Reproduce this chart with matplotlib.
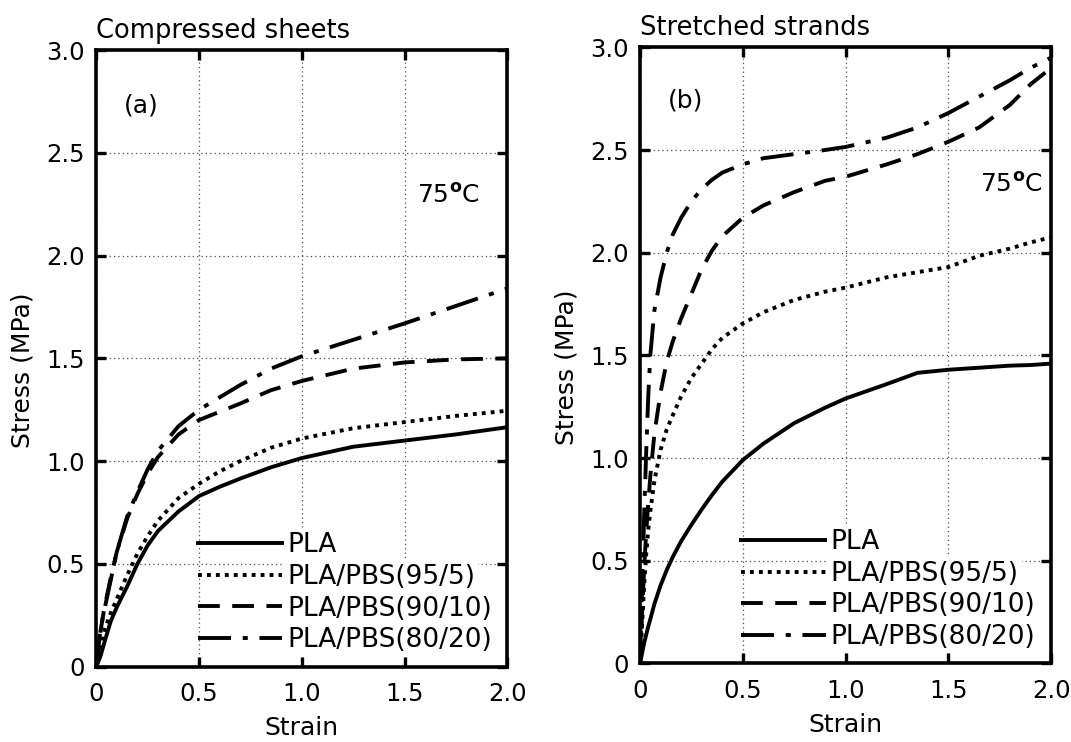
import numpy as np
import matplotlib.pyplot as plt

plt.rcParams['font.family'] = ['DejaVu Sans']

labels = ["PLA", "PLA/PBS(95/5)", "PLA/PBS(90/10)", "PLA/PBS(80/20)"]

# (a) compressed sheets
strain_a = [0, 0.02, 0.04, 0.07, 0.1, 0.15, 0.2, 0.25, 0.3, 0.4, 0.5, 0.6, 0.7, 0.85, 1.0, 1.25, 1.5, 1.75, 2.0]
pla_a = [0, 0.05, 0.12, 0.22, 0.29, 0.39, 0.50, 0.59, 0.66, 0.755, 0.83, 0.875, 0.915, 0.97, 1.015, 1.07, 1.10, 1.13, 1.165]
pbs95_a = [0, 0.09, 0.18, 0.26, 0.33, 0.445, 0.55, 0.635, 0.71, 0.82, 0.89, 0.95, 1.0, 1.065, 1.11, 1.16, 1.19, 1.22, 1.245]
pbs90_a = [0, 0.17, 0.29, 0.43, 0.56, 0.72, 0.84, 0.94, 1.02, 1.13, 1.20, 1.24, 1.28, 1.345, 1.39, 1.45, 1.48, 1.495, 1.50]
pbs80_a = [0, 0.18, 0.28, 0.42, 0.56, 0.73, 0.85, 0.96, 1.05, 1.17, 1.25, 1.31, 1.37, 1.45, 1.51, 1.59, 1.67, 1.755, 1.84]

# (b) stretched strands
strain_b = [0, 0.01, 0.02, 0.03, 0.04, 0.05, 0.07, 0.1, 0.13, 0.16, 0.2, 0.25, 0.3, 0.35, 0.4, 0.5,
            0.6, 0.75, 0.9, 1.0, 1.2, 1.35, 1.5, 1.65, 1.8, 1.9, 2.0]
pla_b = [0, 0.05, 0.10, 0.14, 0.18, 0.215, 0.29, 0.38, 0.455, 0.52, 0.595, 0.675, 0.75, 0.82, 0.885, 0.99,
         1.07, 1.17, 1.245, 1.29, 1.36, 1.415, 1.43, 1.44, 1.45, 1.453, 1.46]
pbs95_b = [0, 0.18, 0.38, 0.53, 0.65, 0.74, 0.89, 1.04, 1.14, 1.21, 1.30, 1.39, 1.46, 1.53, 1.585, 1.655,
           1.71, 1.77, 1.81, 1.83, 1.88, 1.905, 1.93, 1.985, 2.02, 2.05, 2.075]
pbs90_b = [0, 0.24, 0.46, 0.64, 0.78, 0.91, 1.12, 1.32, 1.47, 1.57, 1.68, 1.80, 1.92, 2.01, 2.08, 2.17,
           2.23, 2.295, 2.35, 2.37, 2.43, 2.48, 2.54, 2.61, 2.72, 2.82, 2.90]
pbs80_b = [0, 0.36, 0.72, 1.03, 1.30, 1.50, 1.72, 1.88, 2.0, 2.09, 2.17, 2.25, 2.31, 2.355, 2.39, 2.43,
           2.46, 2.48, 2.50, 2.515, 2.56, 2.61, 2.68, 2.76, 2.84, 2.90, 2.95]

xticks = [0, 0.5, 1.0, 1.5, 2.0]
xticklabels = ["0", "0.5", "1.0", "1.5", "2.0"]
yticks = [0, 0.5, 1.0, 1.5, 2.0, 2.5, 3.0]
yticklabels = ["0", "0.5", "1.0", "1.5", "2.0", "2.5", "3.0"]

styles = ["-", (0, (1.0, 1.3)), (0, (5.6, 3.2)), (0, (8.5, 3.0, 1.3, 3.0))]

fig = plt.figure(figsize=(10.71, 7.42), dpi=100)
ax1 = fig.add_axes([0.0899, 0.1015, 0.3838, 0.8311])
ax2 = fig.add_axes([0.5976, 0.1059, 0.3838, 0.8303])

panels = [
    (ax1, strain_a, [pla_a, pbs95_a, pbs90_a, pbs80_a], "Compressed sheets", "(a)", (0.22, 2.73), (1.56, 2.29)),
    (ax2, strain_b, [pla_b, pbs95_b, pbs90_b, pbs80_b], "Stretched strands", "(b)", (0.22, 2.74), (1.655, 2.33)),
]

for ax, x, series, title, tag, tagpos, tpos in panels:
    for y, ls, lab in zip(series, styles, labels):
        ax.plot(x, y, color="black", linestyle=ls, linewidth=2.8, label=lab)
    ax.set_xlim(0, 2.0)
    ax.set_ylim(0, 3.0)
    ax.set_xticks(xticks)
    ax.set_xticklabels(xticklabels)
    ax.set_yticks(yticks)
    ax.set_yticklabels(yticklabels)
    ax.tick_params(direction="in", length=7, width=2.4, top=True, right=True, labelsize=17.5)
    ax.tick_params(axis="x", pad=11)
    ax.tick_params(axis="y", pad=8)
    for s in ax.spines.values():
        s.set_linewidth(2.6)
    ax.grid(True, linestyle=(0, (1, 2.5)), color="0.3", linewidth=0.9)
    ax.set_title(title, loc="left", fontsize=18.5, pad=9)
    ax.set_xlabel("Strain", fontsize=18)
    ax.set_ylabel("Stress (MPa)", fontsize=18)
    ax.xaxis.set_label_coords(0.5, -0.080)
    ax.yaxis.set_label_coords(-0.150, 0.48)
    ax.text(tagpos[0], tagpos[1], tag, fontsize=18, ha="center", va="center")
    ax.text(tpos[0], tpos[1], r"75$^{\mathbf{o}}$C", fontsize=18, ha="left", va="center")
    leg = ax.legend(loc="lower right", bbox_to_anchor=(0.962, 0.022), frameon=False, fontsize=19,
                    handlelength=3.2, handletextpad=0.19, labelspacing=0.21,
                    borderpad=0, borderaxespad=0)
    for t in leg.get_texts():
        t.set_bbox(dict(facecolor="white", edgecolor="none", pad=2.5))

fig.savefig("out.png", dpi=100)
